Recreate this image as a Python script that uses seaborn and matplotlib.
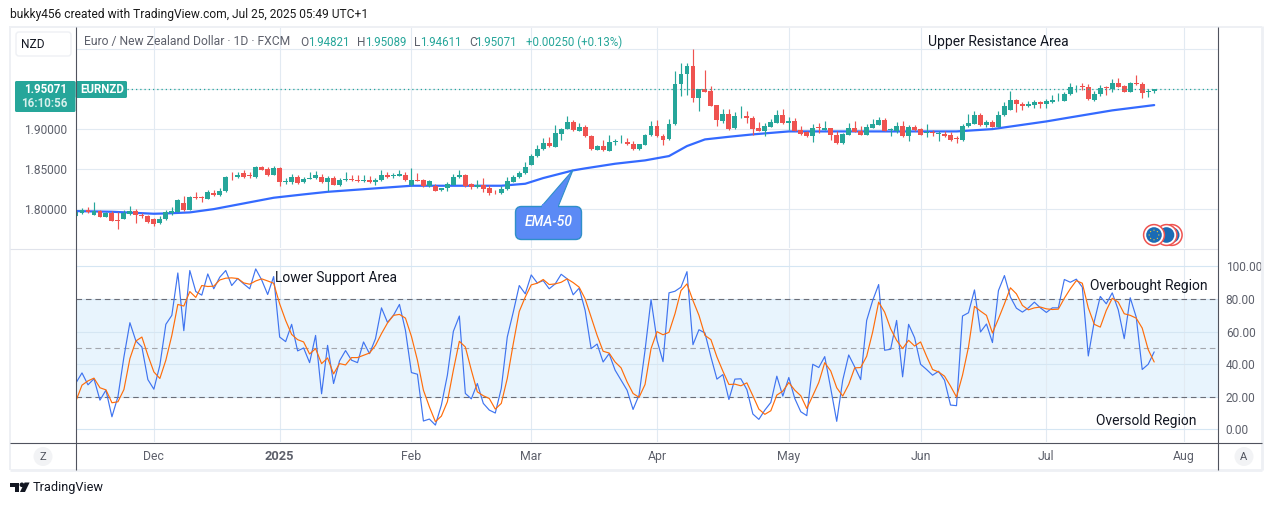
import numpy as np
import pandas as pd
import matplotlib
matplotlib.use("Agg")
import matplotlib.pyplot as plt
from matplotlib.patches import Circle, FancyBboxPatch, Polygon, Rectangle
import seaborn as sns

opens = [1.7921,1.7954,1.7996,1.7933,1.7983,1.7908,1.7950,1.7871,1.7883,1.7946,1.7983,1.7933,1.7921,1.7875,1.7825,1.7875,1.7950,1.7971,1.8079,1.7996,
1.8158,1.8150,1.8133,1.8204,1.8175,1.8225,1.8408,1.8400,1.8454,1.8429,1.8400,1.8525,1.8508,1.8433,1.8517,1.8346,1.8346,1.8408,1.8338,1.8383,
1.8388,1.8408,1.8338,1.8396,1.8304,1.8363,1.8383,1.8371,1.8350,1.8371,1.8338,1.8363,1.8433,1.8417,1.8421,1.8429,1.8300,1.8371,1.8371,1.8288,
1.8296,1.8238,1.8263,1.8304,1.8400,1.8433,1.8321,1.8275,1.8304,1.8271,1.8233,1.8200,1.8250,1.8346,1.8400,1.8450,1.8558,1.8663,1.8750,1.8833,
1.8783,1.8946,1.9000,1.9096,1.8983,1.9029,1.8921,1.8746,1.8796,1.8733,1.8838,1.8838,1.8846,1.8817,1.8758,1.8808,1.8925,1.9046,1.8921,1.8875,
1.9063,1.9563,1.9688,1.9796,1.9388,1.9504,1.9483,1.9308,1.9104,1.9196,1.9013,1.9163,1.9171,1.9146,1.9021,1.8983,1.9033,1.9083,1.9183,1.9075,
1.9108,1.8992,1.8963,1.8913,1.9025,1.8996,1.9017,1.8929,1.8825,1.8933,1.9021,1.8975,1.8933,1.9021,1.9058,1.9121,1.8996,1.8975,1.9046,1.8913,
1.9029,1.9008,1.8954,1.8963,1.8942,1.8946,1.8933,1.8892,1.8871,1.9038,1.9071,1.9183,1.9058,1.9096,1.9033,1.9175,1.9246,1.9371,1.9321,1.9296,
1.9308,1.9346,1.9313,1.9346,1.9363,1.9358,1.9438,1.9538,1.9546,1.9533,1.9371,1.9438,1.9529,1.9500,1.9583,1.9546,1.9471,1.9583,1.9571,1.9471,1.94821]
highs = [1.7996,1.8021,1.8029,1.8088,1.7996,1.7967,1.7975,1.7967,1.7988,1.8046,1.8004,1.7950,1.7929,1.7892,1.7921,1.7996,1.8029,1.8133,1.8171,1.8171,
1.8221,1.8171,1.8246,1.8238,1.8263,1.8421,1.8467,1.8467,1.8492,1.8463,1.8546,1.8542,1.8525,1.8546,1.8525,1.8392,1.8446,1.8425,1.8400,1.8471,
1.8479,1.8442,1.8413,1.8413,1.8392,1.8471,1.8433,1.8433,1.8425,1.8413,1.8392,1.8496,1.8463,1.8454,1.8496,1.8463,1.8517,1.8454,1.8383,1.8371,
1.8321,1.8271,1.8338,1.8446,1.8496,1.8442,1.8329,1.8371,1.8396,1.8300,1.8246,1.8288,1.8408,1.8429,1.8475,1.8592,1.8688,1.8808,1.8896,1.8904,
1.9058,1.9017,1.9171,1.9121,1.9075,1.9054,1.8929,1.8808,1.8871,1.8929,1.8883,1.8933,1.8888,1.8850,1.8821,1.8946,1.9108,1.9113,1.8946,1.9129,
1.9733,1.9833,1.9829,2.0008,1.9504,1.9746,1.9538,1.9308,1.9258,1.9258,1.9213,1.9296,1.9225,1.9171,1.9092,1.9079,1.9129,1.9246,1.9258,1.9154,
1.9146,1.9038,1.8983,1.9063,1.9079,1.9108,1.9017,1.8975,1.8954,1.9075,1.9108,1.9038,1.9071,1.9129,1.9154,1.9142,1.9013,1.9092,1.9104,1.9058,
1.9050,1.9017,1.9071,1.8988,1.8975,1.8975,1.8963,1.8921,1.9071,1.9196,1.9233,1.9204,1.9113,1.9113,1.9233,1.9338,1.9483,1.9379,1.9338,1.9358,
1.9367,1.9358,1.9383,1.9433,1.9458,1.9467,1.9583,1.9558,1.9575,1.9571,1.9483,1.9550,1.9546,1.9633,1.9646,1.9558,1.9596,1.9683,1.9596,1.9500,1.95089]
lows = [1.7913,1.7946,1.7954,1.7929,1.7904,1.7904,1.7854,1.7758,1.7875,1.7933,1.7825,1.7892,1.7825,1.7796,1.7821,1.7867,1.7925,1.7967,1.7979,1.7992,
1.8129,1.8088,1.8129,1.8171,1.8171,1.8221,1.8363,1.8396,1.8396,1.8396,1.8396,1.8488,1.8413,1.8429,1.8288,1.8313,1.8317,1.8321,1.8333,1.8379,
1.8383,1.8333,1.8233,1.8304,1.8288,1.8358,1.8358,1.8346,1.8346,1.8333,1.8300,1.8358,1.8396,1.8396,1.8413,1.8358,1.8296,1.8350,1.8279,1.8283,
1.8229,1.8229,1.8233,1.8300,1.8396,1.8283,1.8258,1.8271,1.8221,1.8183,1.8188,1.8196,1.8246,1.8342,1.8396,1.8446,1.8554,1.8658,1.8746,1.8783,
1.8779,1.8871,1.9000,1.8983,1.8979,1.8908,1.8746,1.8738,1.8733,1.8725,1.8808,1.8833,1.8808,1.8746,1.8738,1.8800,1.8921,1.8908,1.8808,1.8871,
1.9058,1.9413,1.9433,1.9338,1.9233,1.9471,1.9288,1.9046,1.9079,1.8996,1.9008,1.9146,1.9083,1.8933,1.8979,1.8913,1.9029,1.9079,1.9063,1.8996,
1.8979,1.8933,1.8908,1.8838,1.8958,1.8992,1.8863,1.8821,1.8821,1.8929,1.8963,1.8929,1.8929,1.9017,1.9054,1.8975,1.8913,1.8954,1.8908,1.8850,
1.8983,1.8929,1.8904,1.8921,1.8858,1.8904,1.8850,1.8833,1.8858,1.9033,1.9067,1.9042,1.9033,1.9029,1.9025,1.9171,1.9242,1.9221,1.9242,1.9279,
1.9263,1.9271,1.9271,1.9333,1.9358,1.9350,1.9433,1.9471,1.9496,1.9371,1.9358,1.9413,1.9433,1.9463,1.9529,1.9467,1.9467,1.9558,1.9396,1.9408,1.94611]
closes = [1.7971,1.7996,1.7963,1.7983,1.7908,1.7954,1.7858,1.7850,1.7954,1.7983,1.7925,1.7921,1.7846,1.7821,1.7883,1.7971,1.7983,1.8121,1.7996,1.8158,
1.8146,1.8142,1.8221,1.8179,1.8233,1.8408,1.8400,1.8429,1.8408,1.8421,1.8533,1.8496,1.8433,1.8521,1.8342,1.8358,1.8404,1.8333,1.8383,1.8392,
1.8433,1.8338,1.8392,1.8308,1.8371,1.8383,1.8363,1.8350,1.8371,1.8338,1.8367,1.8433,1.8400,1.8429,1.8438,1.8371,1.8367,1.8358,1.8288,1.8354,
1.8233,1.8271,1.8321,1.8408,1.8433,1.8288,1.8275,1.8308,1.8258,1.8208,1.8225,1.8258,1.8358,1.8408,1.8458,1.8533,1.8671,1.8758,1.8833,1.8788,
1.8958,1.9008,1.9096,1.8988,1.9033,1.8913,1.8750,1.8796,1.8738,1.8846,1.8850,1.8846,1.8813,1.8758,1.8817,1.8929,1.9046,1.8913,1.8871,1.9071,
1.9571,1.9692,1.9796,1.9388,1.9504,1.9471,1.9296,1.9113,1.9196,1.9004,1.9171,1.9171,1.9138,1.9008,1.8983,1.9042,1.9096,1.9183,1.9075,1.9108,
1.8983,1.8946,1.8913,1.9021,1.9017,1.9021,1.8925,1.8825,1.8946,1.9021,1.8967,1.8933,1.9029,1.9071,1.9121,1.8975,1.9004,1.9046,1.8913,1.9033,
1.8988,1.8933,1.8963,1.8950,1.8950,1.8921,1.8871,1.8883,1.9046,1.9083,1.9183,1.9054,1.9096,1.9033,1.9183,1.9296,1.9371,1.9313,1.9296,1.9321,
1.9346,1.9313,1.9358,1.9371,1.9371,1.9446,1.9533,1.9546,1.9533,1.9375,1.9446,1.9521,1.9517,1.9583,1.9533,1.9471,1.9583,1.9571,1.9458,1.9483,1.95071]

ema_bars = [0,6,13,15,19,23,28,33,38,42,49,56,59,65,71,75,78,83,85,90,95,99,102,105,109,113,119,131,147,153,162,165,173,180]
ema_vals = [1.7979,1.7971,1.7946,1.7950,1.7963,1.8004,1.8075,1.8146,1.8188,1.8220,1.8258,1.8296,1.8296,1.8296,1.8296,1.8321,1.8392,1.8488,1.8513,1.8571,1.8613,1.8667,1.8792,1.8875,1.8908,1.8938,1.8975,1.8975,1.8975,1.9004,1.9100,1.9138,1.9238,1.9304]

stoch_k = [28.5,34.6,27.3,31.0,17.9,24.0,7.7,20.0,44.4,65.4,54.2,50.5,30.5,24.6,39.3,64.4,69.9,95.9,60.5,97.4,
84.5,82.3,95.3,86.2,93.3,97.4,88.2,92.5,89.2,86.2,98.4,91.6,82.7,93.7,56.6,53.8,64.4,48.1,49.9,40.9,
57.6,21.8,51.5,28.1,42.0,48.3,42.4,40.9,53.6,46.4,55.6,74.5,65.6,69.9,76.6,60.7,34.8,33.8,5.1,6.3,
2.6,14.9,33.2,60.1,69.5,22.0,18.7,28.1,15.9,11.8,10.0,25.1,56.6,71.9,88.2,83.1,94.7,89.8,91.2,86.2,
89.2,95.1,92.3,82.5,86.6,72.9,49.5,52.3,41.3,46.4,36.3,30.1,24.0,12.2,21.0,48.5,79.6,54.6,41.5,83.7,
84.7,87.2,96.7,51.9,61.1,59.1,44.4,30.8,33.6,18.3,30.8,31.0,24.4,9.4,6.1,11.8,16.5,32.6,20.4,31.8,
18.9,10.8,8.4,39.9,37.9,44.6,25.1,4.9,30.1,45.6,38.3,30.5,66.8,79.0,88.8,48.5,49.1,66.8,32.2,64.4,
56.2,39.9,36.7,33.2,35.6,30.1,14.9,14.5,69.5,71.5,85.5,59.7,64.6,53.2,85.1,94.3,81.1,74.3,71.9,74.5,
78.0,74.5,71.7,74.5,74.5,91.9,90.2,92.1,87.2,45.0,66.2,81.5,77.0,83.7,73.3,55.6,80.7,68.8,36.7,39.9,47.5]
stoch_d = [17.5,27.1,29.7,31.4,25.5,24.2,16.3,16.9,24.4,43.4,54.2,56.6,45.4,35.2,31.2,42.4,57.6,76.6,75.6,84.5,
80.9,88.2,87.6,87.8,91.6,92.7,92.9,92.5,89.8,89.0,91.0,92.3,91.0,89.6,77.0,66.8,58.2,55.0,53.6,46.2,
49.5,40.3,43.8,34.0,40.3,39.5,44.0,44.0,45.4,46.8,51.5,58.7,65.2,69.9,70.5,68.2,57.0,42.4,24.0,13.8,
4.7,8.1,16.9,36.3,54.0,50.5,36.3,23.0,20.6,18.9,12.4,15.9,31.2,52.5,72.3,81.1,88.6,89.6,91.9,88.8,
89.2,90.2,92.3,90.0,87.2,80.0,68.8,57.6,47.9,46.8,41.3,37.7,29.1,22.0,19.6,27.5,49.5,59.9,58.0,59.5,
70.9,85.1,89.2,79.0,69.9,57.6,55.0,44.4,35.6,27.5,27.7,26.7,28.5,20.6,12.4,9.2,11.4,21.0,23.4,28.7,
24.0,20.6,12.8,20.6,28.7,40.9,35.8,25.5,20.4,27.5,37.7,37.9,44.8,59.7,78.0,71.9,61.7,54.6,49.5,54.6,
51.1,53.6,44.8,36.7,35.2,32.6,26.5,19.8,33.2,50.5,75.4,72.5,69.9,59.1,67.8,77.0,86.8,83.1,76.0,73.3,
74.5,75.0,73.9,73.5,73.7,80.4,86.2,91.2,89.6,74.5,64.4,62.7,72.9,80.4,78.0,70.9,69.9,68.2,62.1,48.9,41.3]

month_bars = [13, 34, 56, 76, 97, 119, 141, 162, 185]
month_labels = ["Dec", "2025", "Feb", "Mar", "Apr", "May", "Jun", "Jul", "Aug"]
price_ticks = [1.80, 1.85, 1.90, 1.95, 2.00]
price_labels = ["1.80000", "1.85000", "1.90000", "", ""]
rsi_ticks = [0, 20, 40, 60, 80, 100]
rsi_labels = ["0.00", "20.00", "40.00", "60.00", "80.00", "100.00"]
last_price = 1.95071

UP, DOWN = "#26a69a", "#ef5350"
GRID, DARK, TXT = "#e2eaf2", "#50535e", "#5d606b"
W, H = 1281, 505

sns.set_style("white")
plt.rcParams["font.family"] = ["Roboto", "DejaVu Sans"]
fig = plt.figure(figsize=(W / 100, H / 100), dpi=100, facecolor="white")


def axes_px(x0, y0, x1, y1):
    return fig.add_axes([x0 / W, 1 - y1 / H, (x1 - x0) / W, (y1 - y0) / H])


ax = axes_px(75.5, 27, 1217.5, 248)
rs = axes_px(75.5, 249, 1217.5, 442)
XLIM = (-0.083, 190.57)

# price pane
bars = np.arange(len(opens))
df = pd.DataFrame({"bar": bars, "o": opens, "h": highs, "l": lows, "c": closes})
df["up"] = df.c >= df.o
colors = np.where(df.up, UP, DOWN)
ax.vlines(month_bars, 0, 3, color=GRID, lw=0.8, zorder=1)
ax.hlines(price_ticks, *XLIM, color=GRID, lw=0.8, zorder=1)
sns.lineplot(x=ema_bars, y=ema_vals, ax=ax, color="#2962ff", lw=1.6, zorder=2, alpha=0.95)
ax.vlines(df.bar, df.l, df.h, color=colors, lw=0.85, zorder=3)
ax.bar(df.bar, (df.c - df.o).abs().clip(lower=0.0006), bottom=df[["o", "c"]].min(axis=1),
       width=0.82, color=colors, lw=0, zorder=4)
ax.hlines(last_price, *XLIM, color=UP, lw=0.9, linestyles=(0, (1, 2.4)), zorder=5)
ax.set_xlim(*XLIM)
ax.set_ylim(1.7518, 2.028)
ax.set_xticks([])
ax.set_yticks(price_ticks, price_labels)
ax.tick_params(axis="y", length=0, pad=6, labelsize=8.6, labelcolor=TXT)

# oscillator pane
rs.axhspan(20, 80, color="#e8f4fd", lw=0, zorder=0)
rs.vlines(month_bars, -20, 120, color=GRID, lw=0.8, zorder=1)
rs.hlines(rsi_ticks, *XLIM, color="#d5e6f3", lw=0.8, zorder=1)
rs.hlines([20, 80], *XLIM, color="#6a6d78", lw=0.8, linestyles=(0, (5, 3.5)), zorder=2)
rs.hlines([50], *XLIM, color="#a4a7ad", lw=0.8, linestyles=(0, (5, 3.5)), zorder=2)
sns.lineplot(x=bars, y=stoch_k, ax=rs, color="#3f74f0", lw=0.85, zorder=3)
sns.lineplot(x=bars, y=stoch_d, ax=rs, color="#ff6d0a", lw=0.85, zorder=4)
rs.set_xlim(*XLIM)
rs.set_ylim(-7.77, 110.6)
rs.set_xticks(month_bars, month_labels)
rs.yaxis.tick_right()
rs.set_yticks(rsi_ticks, rsi_labels)
rs.tick_params(axis="y", length=0, pad=6, labelsize=8.6, labelcolor=TXT)
rs.tick_params(axis="x", length=0, pad=5.5, labelsize=8.8, labelcolor=TXT)
for lab in rs.get_xticklabels():
    if lab.get_text() == "2025":
        lab.set_fontweight("bold")
        lab.set_fontsize(9.2)

for a in (ax, rs):
    for s in a.spines.values():
        s.set_visible(False)

# overlay in figure pixels for the TradingView furniture
ov = fig.add_axes([0, 0, 1, 1], zorder=10)
ov.set_xlim(0, W)
ov.set_ylim(H, 0)
ov.axis("off")
ov.patch.set_alpha(0)

for (x0, y0, x1, y1, col, lw) in [
    (10, 26.5, 1262, 26.5, "#eef0f4", 1.4), (10, 470, 1262, 470, "#eef0f4", 2.0),
    (10, 26, 10, 470, "#eef0f4", 1.4), (1262, 26, 1262, 470, "#eef0f4", 2.0),
    (10, 248.5, 1217.5, 248.5, "#e0e3eb", 0.8), (10, 442.5, 1262, 442.5, DARK, 0.8),
    (75.5, 27, 75.5, 470, DARK, 0.8), (1217.5, 27, 1217.5, 470, DARK, 0.8)]:
    ov.plot([x0, x1], [y0, y1], color=col, lw=lw, solid_capstyle="butt")


def t(x, y, s, color="#131722", size=10.0, ha="left", **kw):
    ov.text(x, y, s, color=color, fontsize=size, ha=ha, va="center", **kw)


t(10, 14.5, "bukky456 created with TradingView.com, Jul 25, 2025 05:49 UTC+1", size=8.65, color="#1a1a1a")
t(84, 42, "Euro / New Zealand Dollar · 1D · FXCM", color="#5d606b", size=8.7)
for x, s, c, sz in [(300, "O", "#5d606b", 8.6), (308.5, "1.94821", UP, 8.3), (357, "H", "#5d606b", 8.6), (365.5, "1.95089", UP, 8.3),
                    (414, "L", "#5d606b", 8.6), (420, "1.94611", UP, 8.3), (469, "C", "#5d606b", 8.6), (475.5, "1.95071", UP, 8.3),
                    (526, "+0.00250 (+0.13%)", UP, 8.3)]:
    t(x, 42, s, color=c, size=sz)

ov.add_patch(FancyBboxPatch((16, 32), 55, 24, boxstyle="round,pad=0,rounding_size=3", fc="white", ec="#eef0f4", lw=1))
t(33, 44.5, "NZD", size=8.6, ha="center", color="#131722")

ov.add_patch(FancyBboxPatch((15, 81), 60.5, 31, boxstyle="round,pad=0,rounding_size=1.5", fc=UP, ec="none"))
ov.add_patch(FancyBboxPatch((75.5, 81), 51.5, 17, boxstyle="round,pad=0,rounding_size=1.5", fc=UP, ec="none"))
t(67, 89.7, "1.95071", color="white", size=8.3, ha="right", fontweight="bold")
t(67, 103.5, "16:10:56", color="#d6f0ec", size=8.3, ha="right", fontweight="bold")
t(80, 89.7, "EURNZD", color="white", size=8.3, fontweight="bold")

for x, s in [(928, "Upper Resistance Area")]:
    t(x, 42, s)
t(275, 278, "Lower Support Area")
t(1090, 286, "Overbought Region")
t(1096, 420.5, "Oversold Region")

# EMA-50 callout
ov.add_patch(Polygon([(541, 207), (573, 170), (558, 207)], fc="#5b8af5", ec="#2f8fc8", lw=0.8))
ov.add_patch(FancyBboxPatch((515.5, 206.5), 66, 33, boxstyle="round,pad=0,rounding_size=6", fc="#5b8af5", ec="#2f8fc8", lw=1))
ov.add_patch(Rectangle((542, 204), 15.5, 4, fc="#5b8af5", ec="none"))
t(549, 222.5, "EMA-50", color="white", size=10, ha="center", style="italic", fontweight="medium")

# currency badges
for cx in (1171.7, 1166.5, 1154):
    ov.add_patch(Circle((cx, 235), 10.4, fc="white", ec="#ef5350", lw=1.1))
    ov.add_patch(Circle((cx, 235), 7.8, fc="#1b6bb5", ec="none"))
for ang in np.arange(0, 360, 45):
    ov.add_patch(Circle((1154 + 4.8 * np.cos(np.radians(ang)), 235 + 4.8 * np.sin(np.radians(ang))), 0.65, fc="#e8c53a", ec="none"))

# corner buttons
for cx, s in [(43, "Z"), (1244, "A")]:
    ov.add_patch(Circle((cx, 456.5), 9.5, fc="#f2f3f5", ec="none"))
    t(cx, 457, s, size=8, ha="center", color="#50535e")

# logo
ov.add_patch(Polygon([(10, 482.5), (19.3, 482.5), (19.3, 492), (14.6, 492), (14.6, 487), (10, 487)], fc="#131722", ec="none"))
ov.add_patch(Circle((21.9, 484.8), 2.3, fc="#131722", ec="none"))
ov.add_patch(Polygon([(24.6, 482.5), (29.6, 482.5), (25, 492), (20, 492)], fc="#131722", ec="none"))
t(33, 488, "TradingView", size=9.2, color="#131722")

fig.savefig("out.png", dpi=100)
